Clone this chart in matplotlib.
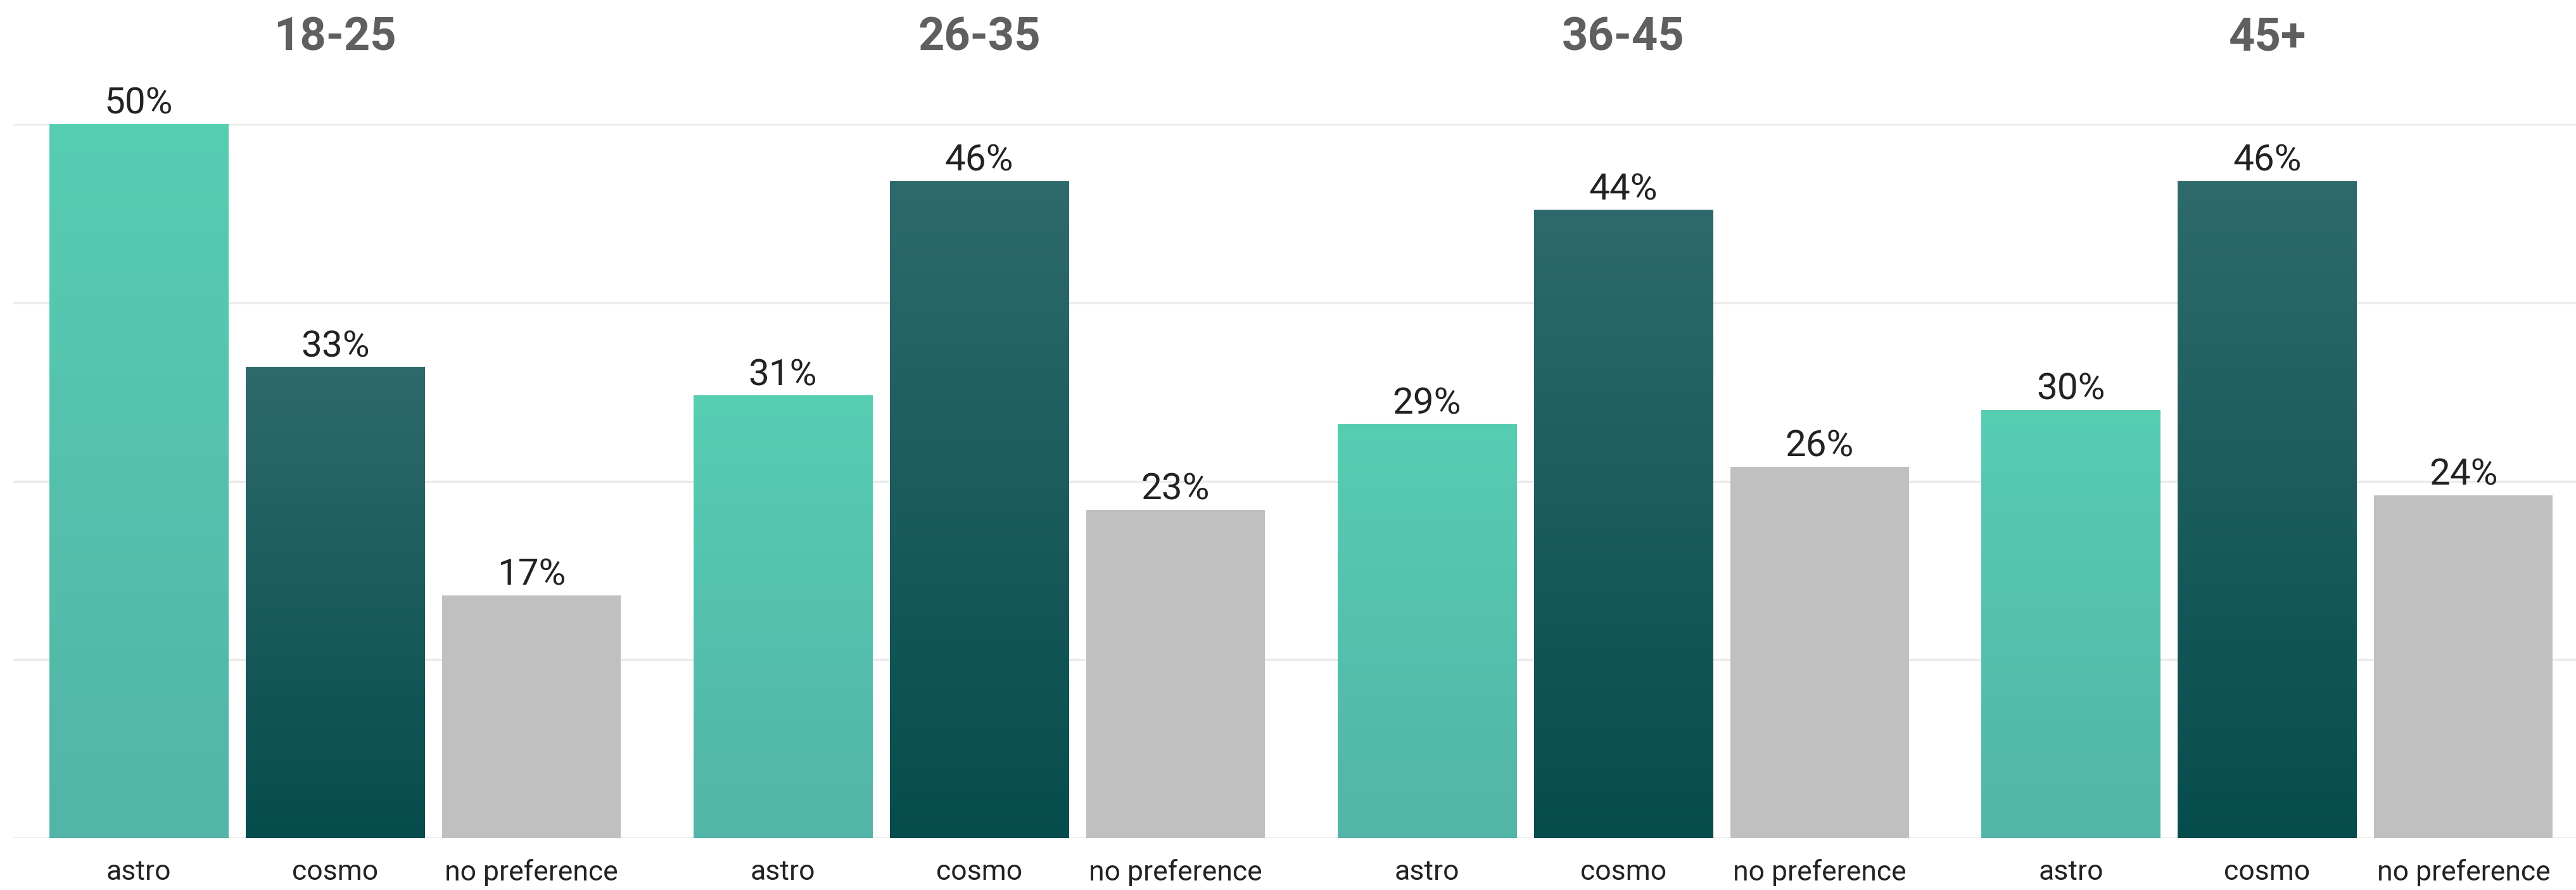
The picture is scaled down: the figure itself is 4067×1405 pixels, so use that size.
import numpy as np
import matplotlib
matplotlib.use("Agg")
import matplotlib.pyplot as plt
from matplotlib.colors import LinearSegmentedColormap

age_groups = ["18-25", "26-35", "36-45", "45+"]
categories = ["astro", "cosmo", "no preference"]
astro = [50, 31, 29, 30]
cosmo = [33, 46, 44, 46]
no_pref = [17, 23, 26, 24]

plt.rcParams['font.family'] = ['Roboto', 'DejaVu Sans']

# gradients: (top colour, bottom colour)
grad_colors = [("#56CEB2", "#53B4A8"), ("#2E6A6C", "#074C4C"), None]
flat_grey = "#C0C0C0"


def gradient_bar(ax, bar, top, bottom):
    cmap = LinearSegmentedColormap.from_list("g", [bottom, top])
    x0, y0 = bar.get_x(), bar.get_y()
    w, h = bar.get_width(), bar.get_height()
    grad = np.linspace(0, 1, 256).reshape(-1, 1)
    im = ax.imshow(grad, extent=[x0, x0 + w, y0, y0 + h], origin="lower",
                   aspect="auto", cmap=cmap, zorder=2)
    im.set_clip_path(bar)
    bar.set_facecolor("none")


fig = plt.figure(figsize=(40.67, 14.05), dpi=100)
left0 = 8 / 1568
panel_w = 392 / 1568
bottom = 82 / 1405
height = (1323 - 196) / 1405

for i, group in enumerate(age_groups):
    ax = fig.add_axes([left0 + i * panel_w, bottom, panel_w, height])
    vals = [astro[i], cosmo[i], no_pref[i]]
    x = np.arange(len(categories))
    bars = ax.bar(x, vals, width=0.91, color=flat_grey, zorder=2, linewidth=0)
    for bar, gc in zip(bars, grad_colors):
        if gc is not None:
            gradient_bar(ax, bar, gc[0], gc[1])
    ax.bar_label(bars, labels=[f"{v}%" for v in vals], padding=3,
                 fontsize=42, color="#222222")
    ax.set_xlim(-0.64, 2.64)
    ax.set_ylim(0, 50)
    ax.set_yticks([0, 12.5, 25, 37.5, 50])
    ax.yaxis.grid(True, color="#EBEBEB", linewidth=2.5, zorder=0)
    ax.set_axisbelow(True)
    ax.tick_params(axis="y", left=False, labelleft=False)
    ax.set_xticks(x)
    ax.set_xticklabels(categories, fontsize=32, color="#222222")
    ax.tick_params(axis="x", length=0, pad=24)
    for s in ax.spines.values():
        s.set_visible(False)
    ax.set_title(group, fontsize=52, fontweight="bold", color="#5F5F5F", pad=84)

fig.savefig("out.png", dpi=100)
